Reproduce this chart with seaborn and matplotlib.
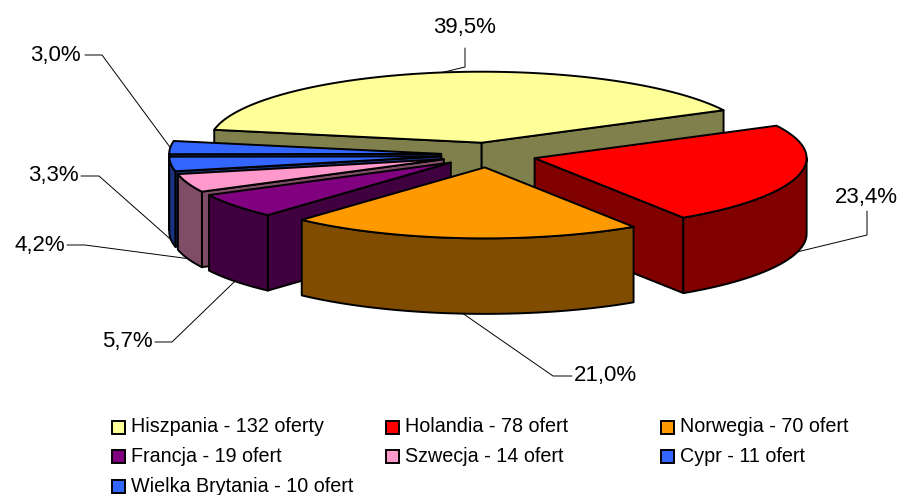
import numpy as np
import seaborn as sns
import matplotlib
matplotlib.use('Agg')
import matplotlib.pyplot as plt
from matplotlib.patches import Polygon, Rectangle

sns.set_theme(style='white')
plt.rcParams['font.family'] = ['Liberation Sans', 'DejaVu Sans']

# dane
kraje = ['Hiszpania - 132 oferty', 'Holandia - 78 ofert', 'Norwegia - 70 ofert', 'Francja - 19 ofert',
         'Szwecja - 14 ofert', 'Cypr - 11 ofert', 'Wielka Brytania - 10 ofert']
oferty = [132, 78, 70, 19, 14, 11, 10]
kolory = ['#FFFF99', '#FF0000', '#FF9900', '#800080', '#FF99CC', '#3366FF', '#3366FF']

# uklad rysunku w pikselach
cx, cy = 488.6, 155.0
rx, ry = 272.0, 71.0
wys = 75.5
expl = 0.175
start = -79.5
# kolejnosc malowania: od tylu do przodu
kolejnosc = [0, 1, 6, 5, 4, 3, 2]
# polozenie etykiet: kolanko leadera i tekst
etykiety = [((465, 67), (465, 48), (465, 28), 'center'),
            ((867, 235), (867, 211), (866, 197), 'center'),
            ((553, 376), (572, 376), (574, 376), 'left'),
            ((172, 342), (155, 342), (153, 341), 'right'),
            ((85, 245), (67, 245), (65, 245), 'right'),
            ((99, 176), (81, 176), (79, 176), 'right'),
            ((102, 55), (85, 55), (81, 55), 'right')]
leg_x = [112, 386, 661]
leg_y = [427, 456, 486]

fig = plt.figure(figsize=(9.01, 4.95), dpi=100)
ax = fig.add_axes([0, 0, 1, 1])
ax.set_xlim(0, 901)
ax.set_ylim(495, 0)
ax.axis('off')

paleta = sns.color_palette(kolory)
ciemne = [tuple(c * 0.5 for c in k) for k in paleta]

udzial = np.array(oferty) / sum(oferty)
kraw = start + np.concatenate([[0], np.cumsum(udzial)]) * 360


def punkt(th, ox, oy, dz=0.0):
    t = np.radians(th)
    return ox + rx * np.sin(t), oy - ry * np.cos(t) + dz


def sciana(pts, kolor, z):
    ax.add_patch(Polygon(pts, closed=True, fc=kolor, ec='black', lw=1.4, joinstyle='round', zorder=z))


kotwice = {}
for z, i in enumerate(kolejnosc):
    t1, t2 = kraw[i], kraw[i + 1]
    mid = np.radians((t1 + t2) / 2)
    ox = cx + expl * rx * np.sin(mid)
    oy = cy - expl * ry * np.cos(mid)
    z = z + 2

    # sciany radialne
    if np.sin(np.radians(t1)) < 0:
        a = punkt(t1, ox, oy)
        sciana([(ox, oy), a, (a[0], a[1] + wys), (ox, oy + wys)], ciemne[i], z)
    if np.sin(np.radians(t2)) > 0:
        a = punkt(t2, ox, oy)
        sciana([(ox, oy), a, (a[0], a[1] + wys), (ox, oy + wys)], ciemne[i], z)

    # sciana zewnetrzna, tylko od strony widza
    lo, hi = max(t1, 90), min(t2, 270)
    if hi > lo:
        th = np.linspace(lo, hi, 80)
        x, y = punkt(th, ox, oy)
        pts = np.r_[np.c_[x, y], np.c_[x[::-1], y[::-1] + wys]]
        sciana(pts, ciemne[i], z)

    # gora
    th = np.linspace(t1, t2, 120)
    x, y = punkt(th, ox, oy)
    sciana(np.r_[[(ox, oy)], np.c_[x, y]], paleta[i], z)

    # punkt zaczepienia leadera
    m = (t1 + t2) / 2
    kotwice[i] = punkt(m, ox, oy, wys if np.cos(np.radians(m)) < -0.05 else 0)

# etykiety procentowe
for i, (kol, kon, txt, ha) in enumerate(etykiety):
    xa, ya = kotwice[i]
    ax.plot([xa, kol[0], kon[0]], [ya, kol[1], kon[1]], color='black', lw=0.7, zorder=1 if i == 99 else 20)
    proc = f'{udzial[i] * 100:.1f}%'.replace('.', ',')
    ax.text(txt[0], txt[1], proc, ha=ha, va='center', fontsize=16, color='black', zorder=21)

# legenda
for i, nazwa in enumerate(kraje):
    w, k = i // 3, i % 3
    ax.add_patch(Rectangle((leg_x[k], leg_y[w] - 6.5), 13, 13, fc=paleta[i], ec='black', lw=1.4, zorder=20))
    ax.text(leg_x[k] + 19, leg_y[w], nazwa, ha='left', va='center', fontsize=14.2, color='black')

fig.savefig('out.png', dpi=100)
